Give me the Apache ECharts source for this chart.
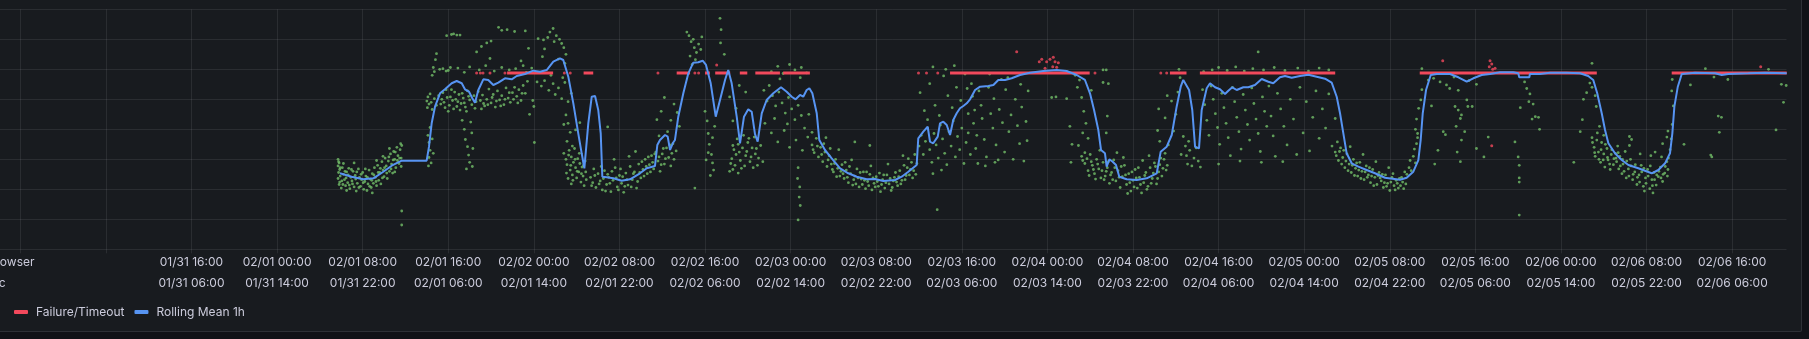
<!DOCTYPE html>
<html>
<head>
<meta charset="utf-8">
<script src="https://cdn.jsdelivr.net/npm/echarts@6/dist/echarts.min.js"></script>
<style>
html,body{margin:0;padding:0;background:#111217;overflow:hidden;}
#panel{position:absolute;left:-10px;top:-10px;width:1812px;height:342px;box-sizing:border-box;background:#181b1f;border:1px solid rgba(204,204,220,0.12);border-radius:2px;}
#chart{position:absolute;left:0;top:0;width:1809px;height:339px;}
</style>
</head>
<body>
<div id="panel"></div>
<div id="chart"></div>
<script>
// x values: hours since 01/31 00:00 (browser time, UTC+10); y values: seconds
const topTickLabels = ['01/31 16:00','02/01 00:00','02/01 08:00','02/01 16:00','02/02 00:00','02/02 08:00','02/02 16:00','02/03 00:00','02/03 08:00','02/03 16:00','02/04 00:00','02/04 08:00','02/04 16:00','02/05 00:00','02/05 08:00','02/05 16:00','02/06 00:00','02/06 08:00','02/06 16:00'];
const bottomTickLabels = ['01/31 06:00','01/31 14:00','01/31 22:00','02/01 06:00','02/01 14:00','02/01 22:00','02/02 06:00','02/02 14:00','02/02 22:00','02/03 06:00','02/03 14:00','02/03 22:00','02/04 06:00','02/04 14:00','02/04 22:00','02/05 06:00','02/05 14:00','02/05 22:00','02/06 06:00'];
const firstLabeledHour = 16;
const axisNames = ['Browser','Utc'];

const rollingMean = [[29.88,12.67],[30.97,12.1],[32.06,11.67],[33.0,11.83],[33.93,12.93],[34.71,13.93],[35.65,14.77],[37.98,14.77],[38.2,17.1],[38.45,21.0],[38.76,23.77],[39.23,26.0],[39.69,26.67],[40.32,27.67],[40.79,28.05],[41.26,27.67],[41.56,26.67],[41.94,26.27],[42.25,25.17],[42.5,24.43],[42.81,26.55],[43.28,28.33],[43.74,28.22],[44.21,27.38],[44.68,27.77],[45.3,28.5],[45.93,28.33],[46.4,28.88],[47.17,29.22],[47.95,29.77],[48.58,29.6],[49.2,29.88],[49.82,31.27],[50.44,31.83],[50.75,31.55],[51.22,28.77],[51.69,24.33],[52.15,19.33],[52.47,16.0],[52.72,13.5],[53.09,21.0],[53.41,25.43],[53.72,25.55],[54.02,23.22],[54.25,19.33],[54.4,12.1],[54.81,12.0],[55.43,11.83],[56.21,11.43],[56.99,11.67],[57.92,12.67],[58.55,13.5],[59.32,13.88],[59.54,17.38],[59.79,18.22],[60.26,19.05],[60.51,18.77],[60.73,16.55],[60.98,17.67],[61.19,18.22],[61.5,22.1],[61.97,26.0],[62.44,29.33],[62.9,31.1],[63.37,31.17],[63.78,31.43],[64.09,30.72],[64.53,27.67],[65.0,22.1],[65.4,24.88],[65.87,28.22],[66.17,29.88],[66.49,27.67],[66.96,22.1],[67.27,17.67],[67.64,22.1],[68.04,23.33],[68.36,22.93],[68.67,19.2],[68.92,17.93],[69.3,22.67],[69.76,24.88],[70.38,26.0],[71.1,27.0],[71.63,26.27],[72.1,25.43],[72.47,25.0],[72.88,25.72],[73.18,25.43],[73.5,26.55],[73.75,26.83],[74.03,26.0],[74.44,22.67],[74.68,18.22],[75.21,16.55],[75.84,15.17],[76.62,13.5],[77.39,12.67],[78.18,12.1],[79.11,11.67],[79.89,11.72],[80.66,11.38],[81.76,11.55],[82.38,12.1],[83.0,12.93],[83.78,14.05],[83.93,18.5],[84.4,19.6],[84.81,20.43],[85.03,17.93],[85.33,17.67],[85.75,18.77],[85.96,21.0],[86.27,21.27],[86.59,20.72],[86.9,19.05],[87.2,21.55],[87.52,22.67],[87.83,23.5],[88.14,23.88],[88.46,24.33],[88.77,25.0],[89.24,26.55],[89.71,27.1],[90.48,27.22],[90.95,27.38],[91.41,28.22],[92.04,28.22],[92.66,28.5],[93.44,29.05],[94.37,29.43],[95.62,29.72],[96.87,29.88],[97.8,29.72],[98.74,29.05],[99.51,28.22],[99.98,26.0],[100.36,23.22],[100.76,19.88],[101.01,16.55],[101.38,16.0],[101.54,13.77],[101.79,15.0],[102.1,14.6],[102.41,14.05],[102.72,12.1],[103.41,11.67],[104.35,11.55],[105.28,11.83],[106.22,12.67],[106.59,16.27],[107.15,17.1],[107.62,19.05],[108.08,23.77],[108.46,27.1],[108.7,28.22],[108.86,28.5],[109.24,26.55],[109.54,23.22],[109.8,17.1],[110.17,16.83],[110.42,23.22],[110.89,26.83],[111.2,27.67],[111.67,27.0],[112.13,26.67],[112.6,25.88],[112.91,26.43],[113.28,27.0],[113.69,26.55],[113.84,26.27],[114.31,27.0],[114.78,27.0],[115.4,27.38],[116.03,28.38],[116.65,27.93],[117.11,27.67],[117.74,28.67],[118.21,28.88],[118.83,28.6],[119.61,28.88],[120.39,29.1],[121.17,28.77],[121.95,28.43],[122.57,27.77],[123.04,25.43],[123.35,22.67],[123.66,19.33],[123.97,16.0],[124.44,14.33],[125.06,13.77],[125.84,13.22],[126.62,12.67],[127.55,11.93],[128.96,11.6],[129.58,11.93],[130.2,12.93],[130.67,14.88],[130.89,18.22],[131.08,22.67],[131.39,26.55],[131.83,29.05],[132.39,29.22],[133.63,29.22],[134.41,28.67],[135.19,27.93],[135.81,28.5],[136.59,29.05],[137.37,29.22],[138.3,29.5],[139.54,29.5],[140.01,29.33],[140.1,28.67],[141.04,28.67],[141.1,29.22],[142.04,29.22],[142.97,29.43],[144.53,29.43],[145.78,29.33],[146.55,28.88],[147.02,28.22],[147.39,26.0],[147.81,22.67],[148.12,19.88],[148.43,17.67],[149.05,16.0],[149.68,14.88],[150.3,14.05],[151.23,13.5],[152.48,12.67],[153.1,13.22],[153.73,14.33],[154.19,16.0],[154.41,19.33],[154.6,23.77],[154.92,27.1],[155.29,29.22],[156.53,29.43],[158.4,29.33],[159.03,29.05],[159.64,29.22],[161.51,29.33],[163.07,29.43],[165.1,29.33]];

const failureLevel = 29.4;
const failureRuns = [[45.5,49.8],[52.65,53.55],[61.35,62.6],[64.0,64.45],[64.95,66.35],[67.25,67.95],[68.7,71.0],[71.3,73.8],[86.9,99.95],[107.45,109.0],[110.25,122.9],[130.8,147.35],[154.35,165.1]];
const failureDots = [[42.65,29.4],[43.0,29.4],[43.25,29.4],[43.9,29.4],[45.3,29.4],[50.85,29.4],[51.4,29.4],[59.6,29.4],[63.05,29.4],[63.4,29.4],[65.09,30.7],[83.95,29.4],[84.7,29.4],[85.75,29.4],[100.45,29.4],[106.6,29.4],[107.15,29.4],[93.13,32.93],[95.24,31.27],[95.47,31.67],[95.93,31.27],[96.24,31.67],[96.55,32.0],[96.71,31.27],[97.02,31.1],[96.5,30.43],[95.78,30.17],[96.87,30.33],[132.95,31.43],[137.37,31.43],[137.53,30.88],[137.3,30.43],[137.84,30.17],[137.62,30.0],[137.53,17.27],[162.67,30.43]];

const responseFeb01a = [[29.7,15.0],[29.7,13.9],[29.75,12.8],[29.7,11.8],[29.8,10.8],[29.8,14.4],[29.85,13.3],[29.9,12.2],[29.85,11.2],[30.0,10.2],[30.1,13.6],[30.2,12.5],[30.3,11.6],[30.2,14.3],[30.4,10.6],[30.5,12.9],[30.6,11.1],[30.7,13.5],[30.8,10.1],[30.9,12.0],[31.0,11.4],[31.1,13.0],[31.2,10.4],[31.3,12.3],[31.4,9.7],[31.5,11.0],[31.6,13.4],[31.7,12.0],[31.8,10.5],[31.9,11.6],[32.0,12.8],[32.1,10.0],[32.2,11.3],[32.3,12.2],[32.4,9.8],[32.5,10.9],[32.6,13.2],[32.7,11.7],[32.8,10.3],[32.9,12.6],[33.0,11.0],[33.1,13.6],[33.2,12.0],[33.3,10.6],[33.4,14.0],[33.5,11.5],[33.6,12.8],[33.7,10.9],[33.8,14.6],[33.9,13.2],[34.0,12.1],[34.1,15.2],[34.2,13.9],[34.3,11.8],[34.4,14.7],[34.5,13.0],[34.6,15.9],[34.7,14.2],[34.8,12.7],[34.9,16.3],[35.0,15.0],[35.1,13.6],[35.2,17.0],[35.3,15.6],[35.4,14.3],[35.5,16.6],[35.6,15.2],[35.65,17.3],[35.6,13.8],[34.5,16.8],[33.9,15.5],[33.3,14.8],[31.2,14.4],[30.5,9.8],[32.9,9.4],[35.65,6.38],[35.65,4.05],
  [29.75,14.6],[29.9,13.6],[30.05,11.4],[30.15,10.8],[30.35,13.0],[30.45,11.9],[30.65,12.4],[30.75,10.7],[30.95,13.3],[31.05,10.9],[31.35,11.7],[31.45,12.9],[31.65,10.3],[31.85,12.5],[32.05,11.1],[32.25,13.4],[32.45,12.0],[32.65,10.5],[32.85,11.5],[33.05,12.4],[33.25,11.3],[33.45,12.8],[33.65,13.5],[33.85,11.9],[34.05,13.6],[34.25,12.7],[34.45,15.4],[34.65,13.4],[34.85,14.9],[35.05,16.2],[35.25,14.8],[35.45,15.2],[35.55,17.6],[35.0,12.9]];
const responseFeb01b = [[38.0,24.7],[38.1,25.4],[38.2,24.2],[38.05,23.6],[38.3,25.9],[38.4,24.5],[38.5,23.3],[38.7,25.1],[38.9,24.0],[39.1,25.6],[38.1,19.0],[38.2,17.8],[38.3,16.5],[38.2,15.3],[38.4,14.4],[38.15,13.9],[38.5,18.4],[38.6,16.0],[38.3,20.3],[38.5,29.0],[38.6,30.3],[38.8,31.6],[38.9,32.6],[38.7,29.6],[39.2,30.0],[39.5,30.1],[39.8,29.7],[40.2,30.3],[39.85,35.6],[40.3,35.8],[40.8,35.7],[41.1,35.7],[40.5,35.9],[39.3,24.2],[39.5,26.1],[39.7,23.6],[39.9,25.3],[40.1,24.0],[40.3,26.6],[40.5,23.4],[40.7,25.0],[40.9,24.6],[41.1,23.2],[41.3,26.0],[41.5,24.4],[41.7,23.0],[41.9,25.5],[42.2,24.1],[42.5,23.5],[42.8,26.3],[43.0,24.8],[43.2,25.7],[43.4,23.9],[43.6,25.0],[43.8,26.7],[44.0,24.4],[44.2,25.8],[44.4,23.7],[44.6,26.4],[44.8,24.9],[45.0,25.6],[45.2,24.1],[45.4,26.9],[45.6,25.2],[45.8,24.5],[46.0,26.1],[46.2,27.0],[46.4,25.5],[46.6,26.6],[46.8,24.8],[47.0,27.3],[47.2,26.0],[47.4,28.0],[40.0,29.8],[40.9,30.2],[41.5,29.5],[42.0,30.4],[42.9,29.9],[43.5,30.6],[44.3,29.7],[45.0,30.3],[45.7,29.9],[46.3,30.1],[47.0,30.6],[47.3,29.5],[47.8,30.2],[42.65,32.9],[43.1,33.8],[43.6,34.4],[44.7,37.0],[45.0,36.5],[45.5,36.6],[46.2,36.3],[47.2,36.4],[47.5,33.5],[48.4,35.1],[43.9,31.8],[46.8,31.4],[44.0,34.7],[41.3,21.5],[41.5,20.0],[41.6,18.3],[41.8,17.1],[41.9,15.7],[42.0,14.5],[41.7,13.4],[42.2,19.4],[42.3,16.8],[42.1,21.2],[42.25,13.8],[47.9,24.8],[48.0,23.8],[48.05,17.8],[48.3,27.9],[47.6,22.5],
  [39.4,25.0],[39.6,24.5],[39.8,26.6],[40.0,23.0],[40.2,25.4],[40.4,24.8],[40.6,26.2],[40.8,23.8],[41.0,25.8],[41.2,24.3],[41.4,25.2],[41.6,23.7],[41.8,26.4],[42.0,24.9],[42.4,25.6],[42.6,24.6],[43.1,23.4],[43.3,24.3],[43.7,24.1],[44.1,25.3],[44.5,24.7],[44.9,23.9],[45.3,25.0],[45.7,26.1],[46.1,25.0],[46.5,24.4],[46.9,26.0]];
const responseFeb02 = [[48.9,34.9],[49.5,36.2],[49.8,36.8],[50.1,35.6],[50.4,35.0],[50.6,34.3],[50.8,33.6],[49.0,33.4],[48.8,32.1],[50.3,31.7],[50.9,31.0],[51.0,32.5],[49.3,35.3],[49.9,34.6],[48.7,27.2],[49.0,28.1],[49.4,26.5],[49.8,27.6],[50.0,25.8],[50.3,26.9],[50.6,25.1],[50.9,27.8],[51.2,24.6],[51.5,26.0],[50.7,28.6],[49.6,29.0],[51.0,22.4],[51.2,21.0],[51.4,19.5],[51.1,18.0],[50.8,20.8],[51.6,17.2],[51.9,19.9],[52.3,21.1],[54.9,20.4],[50.8,16.0],[51.0,15.0],[51.1,14.1],[51.3,16.5],[51.4,13.2],[51.5,15.4],[51.6,12.4],[51.7,14.5],[51.8,16.8],[51.9,13.6],[52.0,11.9],[52.1,15.1],[52.2,12.9],[52.3,14.3],[52.4,11.2],[52.5,13.7],[52.6,12.2],[52.7,10.6],[52.8,14.7],[52.9,11.6],[51.2,11.8],[51.5,10.9],[53.3,12.0],[53.5,11.1],[53.6,13.4],[53.8,10.3],[54.0,12.6],[54.2,11.4],[54.4,9.9],[54.6,13.1],[54.8,10.8],[55.0,12.0],[55.2,9.6],[55.4,11.5],[55.6,13.6],[55.8,10.4],[56.0,12.3],[56.2,11.0],[56.4,9.5],[56.6,12.7],[56.8,10.7],[57.0,13.8],[57.2,11.6],[57.4,12.9],[57.6,10.2],[57.8,14.2],[58.0,11.9],[58.2,13.3],[58.4,15.0],[58.6,12.6],[58.8,14.1],[59.0,15.6],[59.2,13.4],[59.4,16.2],[59.6,14.7],[59.8,13.0],[60.0,15.9],[60.2,14.2],[60.4,16.9],[60.6,15.3],[60.8,13.9],[61.0,17.6],[61.1,15.0],[61.3,16.4],[55.5,15.0],[56.9,15.5],[57.5,16.3],[59.5,21.6],[59.9,23.0],[60.2,25.3],[60.5,19.6],[60.8,21.5],[61.1,24.2],[61.4,22.8],[61.6,20.5],[59.7,18.9],[62.3,36.2],[62.5,35.6],[62.7,34.6],[62.9,35.0],[63.0,33.6],[63.2,32.8],[63.4,34.2],[63.6,33.3],[63.1,31.6],[62.6,32.2],[63.7,35.4],[62.8,30.8],[64.0,23.0],[64.2,21.4],[64.3,19.3],[64.4,17.5],[64.6,15.8],[64.7,14.4],[64.8,13.2],[64.5,12.3],[64.3,16.1],[64.7,18.6],[64.9,20.5],[64.1,14.9],[65.4,38.5],[65.5,36.6],[65.45,34.4],[65.8,32.5],[63.05,10.2],[66.3,13.0],[66.5,15.1],[66.6,17.3],[66.8,14.0],[67.0,18.4],[67.2,16.2],[67.4,13.5],[67.6,19.0],[67.8,15.6],[68.0,17.8],[68.2,14.6],[68.4,16.9],[68.6,18.7],[67.1,12.7],[66.7,16.6],[66.3,25.4],[66.9,23.5],[67.2,27.3],[67.8,26.2],[66.6,21.4],
  [51.05,12.7],[51.25,15.7],[51.45,14.0],[51.65,11.5],[51.85,15.0],[52.05,13.0],[52.25,16.0],[52.45,12.6],[52.65,14.0],[52.85,12.9],[53.4,10.6],[53.7,12.3],[54.1,10.9],[54.3,13.8],[54.5,11.8],[54.7,9.7],[54.9,12.5],[55.1,11.0],[55.3,13.0],[55.7,11.9],[55.9,9.9],[56.1,13.4],[56.3,12.1],[56.5,10.5],[56.7,11.6],[57.1,10.4],[57.3,12.6],[57.7,11.3],[57.9,12.8],[58.1,14.6],[58.3,12.2],[58.5,13.8],[58.7,15.4],[58.9,12.9],[59.1,14.5],[59.3,15.9],[59.7,15.4],[59.9,14.1],[60.1,16.8],[60.3,15.1],[60.7,17.4],[60.9,16.0],
  [66.4,14.3],[66.6,13.3],[66.9,15.8],[67.1,17.5],[67.3,14.8],[67.5,16.9],[67.7,13.9],[67.9,16.3],[68.1,18.5],[68.3,15.4],[68.5,13.6],[68.7,15.9]];
const responseFeb03 = [[68.8,16.8],[69.0,15.2],[69.2,17.3],[69.4,14.6],[68.9,14.0],[69.5,26.5],[69.8,24.7],[70.0,27.3],[70.3,25.6],[70.6,23.9],[70.9,26.2],[71.2,24.4],[71.5,22.7],[71.8,25.3],[72.1,23.4],[72.4,21.6],[72.7,24.0],[73.0,22.3],[73.3,20.2],[73.6,18.7],[69.6,21.0],[70.2,19.4],[70.8,17.9],[71.4,19.8],[71.9,17.0],[72.5,18.2],[73.1,16.5],[73.7,22.5],[74.0,19.5],[70.5,21.8],[71.7,20.9],[70.2,29.6],[70.8,30.5],[71.3,29.3],[71.9,30.8],[72.4,29.9],[73.0,30.3],[73.5,29.4],[71.0,28.4],[72.9,28.6],[72.7,13.6],[72.65,11.8],[72.85,10.4],[72.8,8.7],[72.9,7.3],[72.7,4.9],[74.0,17.4],[74.2,16.1],[74.4,18.5],[74.6,15.4],[74.8,17.0],[75.0,14.6],[75.2,16.2],[75.4,13.8],[75.6,15.6],[75.8,14.2],[76.0,12.9],[76.2,15.0],[76.4,13.5],[76.6,12.2],[76.8,14.1],[77.0,11.8],[77.2,13.2],[77.4,11.1],[77.6,12.6],[77.8,10.7],[78.0,12.2],[78.2,13.4],[78.4,10.4],[78.6,11.7],[78.8,12.9],[79.0,10.1],[79.2,11.3],[79.4,12.5],[79.6,9.9],[79.8,11.0],[80.0,12.1],[80.2,10.5],[80.4,9.6],[80.6,11.6],[80.8,10.2],[81.0,12.4],[81.2,10.9],[81.4,9.8],[81.6,11.4],[81.8,12.8],[82.0,10.6],[82.2,13.1],[82.4,11.5],[82.6,14.0],[82.8,12.3],[83.0,15.1],[83.2,13.3],[83.4,11.9],[83.6,15.8],[83.8,14.3],[75.3,18.6],[76.5,16.6],[77.7,14.9],[79.5,13.9],[81.1,14.2],[82.5,15.6],[78.0,17.9],[79.4,17.3],[85.7,6.6],[84.0,17.2],[84.2,19.0],[84.4,15.8],[84.6,18.0],[84.8,20.2],[85.0,16.6],[85.2,14.5],[85.4,19.3],[85.6,17.4],[85.8,15.2],[86.0,20.7],[86.2,18.4],[86.4,16.0],[86.6,14.1],[86.8,19.6],[87.0,17.2],[87.2,21.4],[87.4,15.4],[87.6,18.8],[87.8,16.6],[88.0,20.2],[88.2,14.3],[88.4,17.8],[88.6,19.4],[88.8,15.8],[85.3,12.6],[86.1,13.2],[84.1,26.1],[84.5,23.1],[85.0,27.6],[85.5,24.0],[85.9,22.3],[86.3,28.9],[86.7,25.6],[87.1,23.6],[87.5,27.0],[87.9,24.8],[88.3,29.2],[88.6,22.6],[84.8,21.6],[86.5,30.0],[87.3,30.6],[85.3,30.4],[88.5,26.8],
  [74.1,16.6],[74.5,17.2],[74.9,15.8],[75.1,17.6],[75.5,14.9],[75.7,16.8],[75.9,13.3],[76.1,14.3],[76.3,12.1],[76.7,13.0],[76.9,12.6],[77.1,14.5],[77.3,12.0],[77.5,13.8],[77.9,11.6],[78.1,10.9],[78.3,11.9],[78.5,12.8],[78.7,10.8],[78.9,11.5],[79.1,12.9],[79.3,10.6],[79.7,11.9],[79.9,10.4],[80.1,11.3],[80.3,12.7],[80.5,10.8],[80.7,12.4],[80.9,11.1],[81.3,11.8],[81.5,10.3],[81.7,12.0],[81.9,11.2],[82.1,12.1],[82.3,10.9],[82.7,11.6],[82.9,13.6],[83.1,12.4],[83.3,14.5],[83.5,13.1],[83.7,12.5]];
const responseFeb04 = [[88.9,27.6],[89.0,25.5],[89.2,23.2],[89.1,21.0],[89.4,19.0],[89.3,16.8],[89.6,26.4],[89.8,24.0],[89.9,21.8],[90.1,18.3],[90.3,15.4],[90.5,27.0],[90.7,22.6],[90.9,20.2],[91.0,25.1],[91.2,17.4],[91.4,14.9],[91.5,23.3],[91.8,21.1],[92.0,16.2],[92.1,26.6],[92.4,19.6],[92.6,22.4],[92.8,15.0],[93.0,25.0],[93.2,20.6],[93.4,17.6],[93.6,23.7],[93.8,14.7],[94.0,21.3],[94.2,26.4],[89.5,14.3],[90.2,13.9],[91.1,14.5],[92.3,28.6],[93.5,27.5],[94.1,18.1],[90.6,29.2],[91.7,28.3],[96.4,25.3],[96.8,25.4],[97.8,25.1],[98.1,20.5],[98.3,17.5],[98.2,14.5],[98.6,29.0],[98.8,27.0],[99.0,28.2],[99.2,25.3],[99.4,23.0],[99.6,21.0],[99.3,19.4],[98.9,17.3],[99.8,18.5],[99.5,16.1],[100.1,26.5],[101.2,27.8],[101.7,27.6],[101.6,22.2],[101.5,19.4],[99.2,15.5],[99.5,14.3],[99.8,13.1],[100.0,15.8],[100.2,14.0],[100.4,12.6],[100.6,15.0],[100.8,13.4],[101.0,11.9],[101.2,14.5],[101.4,12.2],[101.6,13.6],[101.8,11.0],[102.0,12.8],[102.2,14.9],[102.4,11.4],[102.6,13.1],[102.8,10.3],[103.0,12.1],[103.2,14.0],[103.4,10.8],[103.6,12.6],[103.8,9.7],[104.0,11.5],[104.2,13.3],[104.4,10.2],[104.6,12.0],[104.8,9.4],[105.0,11.1],[105.2,12.8],[105.4,10.5],[105.6,13.6],[105.8,11.8],[106.0,14.4],[106.2,10.9],[106.4,12.9],[106.6,15.2],[106.8,13.5],[107.0,16.0],[107.2,14.0],[103.1,15.3],[104.9,14.8],[100.9,16.5],[102.5,16.1],[105.5,15.6],[103.5,9.3],[106.3,19.8],[106.5,18.0],[107.0,21.9],[107.3,17.4],[107.6,24.7],[107.8,19.7],[108.0,22.5],[108.2,26.2],[108.4,28.6],[108.5,15.8],[108.7,18.8],[108.3,30.0],[107.2,25.6],[106.4,23.4],[101.2,29.9],[101.5,29.9],
  [99.3,14.8],[99.7,15.1],[99.9,12.3],[100.1,14.6],[100.3,13.3],[100.5,11.7],[100.7,14.2],[101.1,13.1],[101.3,11.6],[101.5,13.0],[101.7,14.6],[101.9,12.4],[102.1,11.6],[102.3,13.6],[102.7,12.0],[102.9,13.8],[103.3,12.4],[103.7,11.1],[103.9,12.9],[104.1,10.4],[104.3,11.9],[104.5,13.6],[104.7,10.8],[105.1,12.3],[105.3,10.0],[105.7,11.0],[105.9,12.7],[106.1,13.8],[106.3,11.8],[106.5,14.1],[106.7,12.2],[106.9,15.0],[107.1,13.2]];
const responseFeb05 = [[108.9,17.2],[109.0,15.6],[109.1,14.2],[109.3,16.5],[109.5,13.9],[109.7,15.2],[109.9,16.9],[110.1,14.7],[110.3,13.7],[109.2,18.0],[110.5,26.6],[110.7,24.1],[110.9,21.5],[111.1,19.0],[111.3,27.2],[111.5,25.0],[111.7,22.6],[111.9,20.3],[112.1,17.5],[112.3,26.0],[112.5,23.6],[112.7,21.0],[112.9,18.6],[113.1,15.6],[113.3,27.0],[113.5,24.6],[113.7,22.0],[113.9,19.6],[114.1,16.7],[114.3,25.8],[114.5,23.2],[114.7,20.8],[114.9,18.2],[115.1,26.9],[115.3,24.3],[115.5,21.7],[115.7,19.3],[115.9,16.3],[116.1,25.4],[116.3,23.0],[116.5,20.5],[116.7,27.2],[116.9,22.2],[117.1,18.9],[117.3,15.5],[117.5,26.0],[117.8,23.4],[118.1,20.5],[118.4,17.4],[118.7,25.0],[119.0,21.7],[119.3,15.8],[119.6,27.0],[119.9,19.4],[120.2,24.6],[120.5,16.4],[120.8,22.0],[121.1,26.4],[121.4,18.5],[121.7,23.4],[122.0,20.2],[122.3,25.9],[122.6,17.2],[122.9,21.8],[114.0,14.7],[116.0,14.5],[118.0,14.6],[112.0,14.2],[110.6,29.6],[111.4,29.9],[112.0,30.3],[112.8,29.8],[113.6,30.4],[114.4,29.7],[115.2,30.1],[116.2,29.9],[117.2,30.3],[118.2,29.8],[119.4,30.2],[120.4,29.7],[121.4,30.2],[122.3,29.9],[115.7,32.9],[122.9,16.2],[123.1,17.9],[123.2,14.8],[123.4,16.9],[123.6,15.3],[123.8,13.6],[124.0,15.9],[124.2,14.2],[124.4,12.8],[124.6,15.0],[124.8,13.5],[125.0,12.2],[125.2,14.5],[125.4,13.0],[125.6,11.6],[125.8,13.9],[126.0,12.4],[126.2,11.1],[126.4,13.3],[126.6,12.0],[126.8,10.8],[127.0,12.8],[127.2,11.4],[127.4,10.3],[127.6,12.4],[127.8,11.0],[128.0,9.8],[128.2,12.0],[128.4,10.6],[128.6,11.5],[128.8,10.2],[125.5,15.8],[126.7,14.6],[127.9,13.6],[124.3,17.1],
  [123.0,15.6],[123.3,16.3],[123.5,14.2],[123.7,16.5],[123.9,14.7],[124.1,13.1],[124.5,14.0],[124.7,12.3],[124.9,14.4],[125.1,13.2],[125.3,11.8],[125.7,12.9],[125.9,12.0],[126.1,13.6],[126.3,12.2],[126.5,10.6],[126.9,12.3],[127.1,11.9],[127.3,12.5],[127.5,11.1],[127.7,10.5],[128.1,11.2],[128.3,12.6],[128.5,9.9],[128.7,11.0],[128.9,11.8]];
const responseFeb06a = [[129.0,10.6],[129.1,12.0],[129.2,11.2],[129.4,12.9],[129.5,10.9],[129.6,12.5],[129.8,13.6],[129.9,14.8],[130.0,13.1],[130.2,15.5],[130.3,16.7],[130.4,14.4],[130.5,17.6],[130.6,18.6],[129.3,10.1],[130.4,20.0],[130.5,21.7],[130.7,23.5],[130.9,24.9],[131.0,26.6],[130.6,19.3],[131.0,30.1],[132.1,28.5],[132.7,27.9],[133.3,27.4],[133.6,26.8],[134.4,26.5],[131.6,28.2],[134.0,28.7],[135.4,28.1],[136.1,27.5],[134.1,23.8],[134.4,23.2],[134.6,21.8],[134.7,22.4],[135.2,24.9],[135.3,23.8],[135.7,23.8],[135.0,19.6],[134.7,18.2],[134.3,16.2],[134.6,14.6],[136.1,16.8],[136.8,15.4],[137.2,18.7],[133.0,19.6],[133.2,19.1],[132.5,16.5],[132.2,14.2],[131.9,23.9],[134.2,20.5],[139.7,17.9],[140.0,15.4],[140.1,14.0],[140.1,11.9],[140.1,11.2],[140.1,5.7],[140.2,23.6],[140.6,27.9],[140.8,26.8],[141.1,25.9],[141.4,24.2],[141.3,21.7],[141.6,22.1],[141.9,22.0],[142.0,20.0],[141.0,24.6],[145.2,14.5],[145.8,19.6],[146.0,21.6],[146.1,25.0],[146.4,26.1],[146.9,27.0],[147.2,25.6],[147.3,23.8],[146.7,27.7],[146.9,31.0],[146.9,18.6],[147.1,17.0],[147.2,15.5],[147.4,19.4],[147.5,16.2],[147.7,14.5],[147.8,17.8],[148.0,15.9],[148.1,13.7],[148.3,16.8],[148.4,14.9],[148.6,13.3],[148.7,15.8],[148.9,14.1],[148.0,19.0],[147.6,20.5],
  [146.95,17.8],[147.15,16.1],[147.35,18.2],[147.55,15.0],[147.75,16.6],[147.95,14.9],[148.15,17.5],[148.35,15.3],[148.55,14.2],[148.75,16.6],[148.95,15.1]];
const responseFeb06b = [[149.1,16.0],[149.2,14.6],[149.3,17.2],[149.4,13.4],[149.5,15.5],[149.7,12.6],[149.8,14.2],[150.0,16.3],[150.1,11.9],[150.3,13.4],[150.5,15.0],[150.7,11.6],[150.9,12.9],[151.1,10.8],[151.3,12.4],[151.5,14.0],[151.7,10.5],[151.9,11.9],[152.1,13.3],[152.3,10.1],[152.5,11.6],[152.7,12.8],[152.9,10.7],[153.1,12.1],[153.3,13.7],[153.5,11.3],[153.7,12.7],[153.9,14.6],[154.0,13.3],[153.4,15.4],[151.4,15.9],[150.4,17.3],[152.4,15.6],[151.8,9.7],[152.6,9.4],[150.6,18.3],[154.2,16.6],[154.3,18.4],[154.4,20.8],[154.5,23.9],[154.35,26.4],[154.4,28.3],[153.9,18.7],[153.5,17.6],[152.8,16.2],[150.4,18.8],[154.0,19.7],[155.5,17.5],[156.1,27.4],[157.5,30.1],[158.0,15.7],[158.1,15.4],[158.3,28.7],[158.7,22.2],[159.0,22.0],[158.8,19.5],[159.6,28.3],[163.4,30.0],[164.1,19.9],[164.6,27.5],[164.8,24.5],[165.05,27.3],
  [149.15,15.2],[149.35,16.1],[149.55,13.9],[149.75,15.0],[149.9,13.0],[150.15,14.7],[150.35,12.2],[150.55,13.9],[150.75,12.5],[150.95,14.1],[151.15,12.0],[151.35,11.2],[151.55,12.9],[151.75,13.5],[151.95,11.0],[152.15,12.2],[152.35,13.9],[152.55,10.6],[152.75,11.6],[152.95,12.4],[153.15,13.0],[153.35,11.9],[153.55,12.5],[153.75,13.8],[153.95,12.2],[154.05,15.2]];

const responseTimes = [].concat(responseFeb01a, responseFeb01b, responseFeb02, responseFeb03, responseFeb04, responseFeb05, responseFeb06a, responseFeb06b);
const failureLineData = [];
failureRuns.forEach(function (r) { failureLineData.push([r[0], failureLevel], [r[1], failureLevel], [null, null]); });

const FONT = 'Inter, "Noto Sans", "DejaVu Sans", sans-serif';
const TEXT = '#ccccdc';
const GRID = 'rgba(204,204,220,0.1)';

function tickFormatter(list) {
  return function (val) {
    const i = Math.round((val - firstLabeledHour) / 8);
    if (Math.abs(val - (firstLabeledHour + 8 * i)) > 1e-6 || i < 0 || i >= list.length) return '';
    return list[i];
  };
}

const chart = echarts.init(document.getElementById('chart'), null, {renderer: 'canvas'});
chart.setOption({
  backgroundColor: 'transparent',
  animation: false,
  textStyle: {fontFamily: FONT},
  grid: {left: -65.3, right: 22.5, top: 9.3, bottom: 89.7, outerBoundsMode: 'none', containLabel: false},
  legend: {
    data: ['Failure/Timeout', 'Rolling Mean 1h'],
    left: 9, top: 301, icon: 'roundRect', itemWidth: 14, itemHeight: 4, itemGap: 10,
    textStyle: {color: TEXT, fontSize: 12, fontFamily: FONT, padding: [0, 0, 0, 3]}
  },
  graphic: [
    {type: 'text', right: 1809 - 34.5, top: 256, style: {text: axisNames[0], fill: TEXT, font: '12px ' + FONT}},
    {type: 'text', right: 1809 - 5.7, top: 277, style: {text: axisNames[1], fill: TEXT, font: '12px ' + FONT}}
  ],
  xAxis: [
    {type: 'value', min: -8, max: 165.08, interval: 8, position: 'bottom',
     axisLine: {show: false}, axisTick: {show: true, length: 4, lineStyle: {color: GRID}},
     splitLine: {show: true, showMaxLine: false, lineStyle: {color: GRID, width: 1}},
     axisLabel: {interval: 0, hideOverlap: false, showMaxLabel: false, showMinLabel: false, margin: 7, color: TEXT, fontSize: 12, fontFamily: FONT, formatter: tickFormatter(topTickLabels)}},
    {type: 'value', min: -8, max: 165.08, interval: 8, position: 'bottom', offset: 21,
     axisLine: {show: false}, axisTick: {show: false}, splitLine: {show: false},
     axisLabel: {interval: 0, hideOverlap: false, showMaxLabel: false, showMinLabel: false, margin: 7, color: TEXT, fontSize: 12, fontFamily: FONT, formatter: tickFormatter(bottomTickLabels)}}
  ],
  yAxis: {type: 'value', min: 0, max: 40, interval: 5,
    axisLine: {show: false}, axisTick: {show: false}, axisLabel: {show: false},
    splitLine: {show: true, lineStyle: {color: GRID, width: 1}}},
  series: [
    {name: 'Response Time', type: 'scatter', data: responseTimes, symbolSize: 2.8, silent: true,
     itemStyle: {color: '#73bf69'}, z: 1},
    {name: 'Failure/Timeout', type: 'line', data: failureLineData, showSymbol: false, connectNulls: false, silent: true,
     lineStyle: {color: '#f2495c', width: 3}, itemStyle: {color: '#f2495c'}, z: 2},
    {name: 'Failure/Timeout', type: 'scatter', data: failureDots, symbolSize: 3, silent: true,
     itemStyle: {color: '#f2495c'}, z: 2},
    {name: 'Rolling Mean 1h', type: 'line', data: rollingMean, showSymbol: false, silent: true,
     lineStyle: {color: '#5794f2', width: 2}, itemStyle: {color: '#5794f2'}, z: 3}
  ]
});
</script>
</body>
</html>
